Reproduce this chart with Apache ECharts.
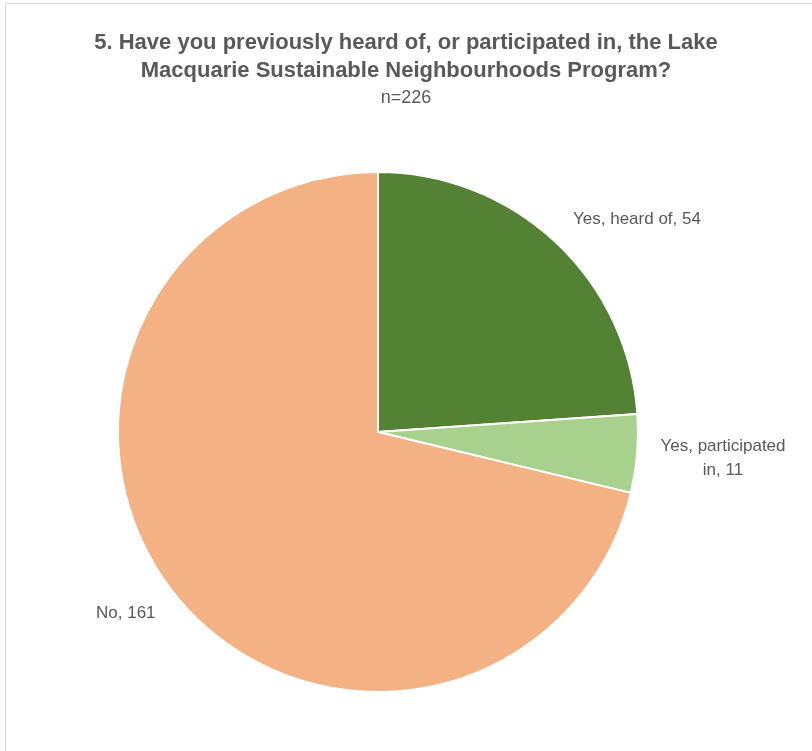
<!DOCTYPE html>
<html><head><meta charset="utf-8">
<script src="https://cdn.jsdelivr.net/npm/echarts@6/dist/echarts.min.js"></script>
<style>
html,body{margin:0;padding:0;background:#fff;}
#frame{position:absolute;left:5px;top:3px;width:820px;height:760px;border:1px solid #d9d9d9;box-sizing:border-box;}
#chart{position:absolute;left:0;top:0;width:812px;height:751px;}
</style></head>
<body>
<div id="frame"></div>
<div id="chart"></div>
<script>
const categories = ["Yes, heard of", "Yes, participated in", "No"];
const values = [54, 11, 161];
const colors = ["#548235", "#A9D18E", "#F4B183"];
const titleText = "5. Have you previously heard of, or participated in, the Lake\nMacquarie Sustainable Neighbourhoods Program?";
const subText = "n=226";

const labelPos = [
  {x: 573, y: 219, align: 'left'},
  {x: 723, y: 458, align: 'center'},
  {x: 96, y: 613, align: 'left'}
];
const labelText = ["Yes, heard of, 54", "Yes, participated\nin, 11", "No, 161"];

const chart = echarts.init(document.getElementById('chart'), null, {renderer: 'canvas'});
chart.setOption({
  backgroundColor: 'transparent',
  animation: false,
  title: {
    text: titleText,
    subtext: subText,
    left: 'center',
    top: 24,
    itemGap: 2,
    textStyle: {fontFamily: 'Liberation Sans', fontWeight: 'bold', fontSize: 22, color: '#595959', lineHeight: 28},
    subtextStyle: {fontFamily: 'Liberation Sans', fontSize: 18, color: '#595959', lineHeight: 22}
  },
  series: [{
    type: 'pie',
    center: [378, 432],
    radius: [0, 260],
    startAngle: 90,
    clockwise: true,
    avoidLabelOverlap: false,
    itemStyle: {borderColor: '#fff', borderWidth: 2},
    label: {
      show: true,
      position: 'outside',
      fontFamily: 'Liberation Sans',
      fontSize: 17,
      color: '#595959',
      lineHeight: 24,
      formatter: p => labelText[p.dataIndex]
    },
    labelLine: {show: false},
    labelLayout: p => ({x: labelPos[p.dataIndex].x, y: labelPos[p.dataIndex].y, align: labelPos[p.dataIndex].align, verticalAlign: 'middle'}),
    data: categories.map((c, i) => ({name: c, value: values[i], itemStyle: {color: colors[i]}}))
  }]
});
</script>
</body></html>
